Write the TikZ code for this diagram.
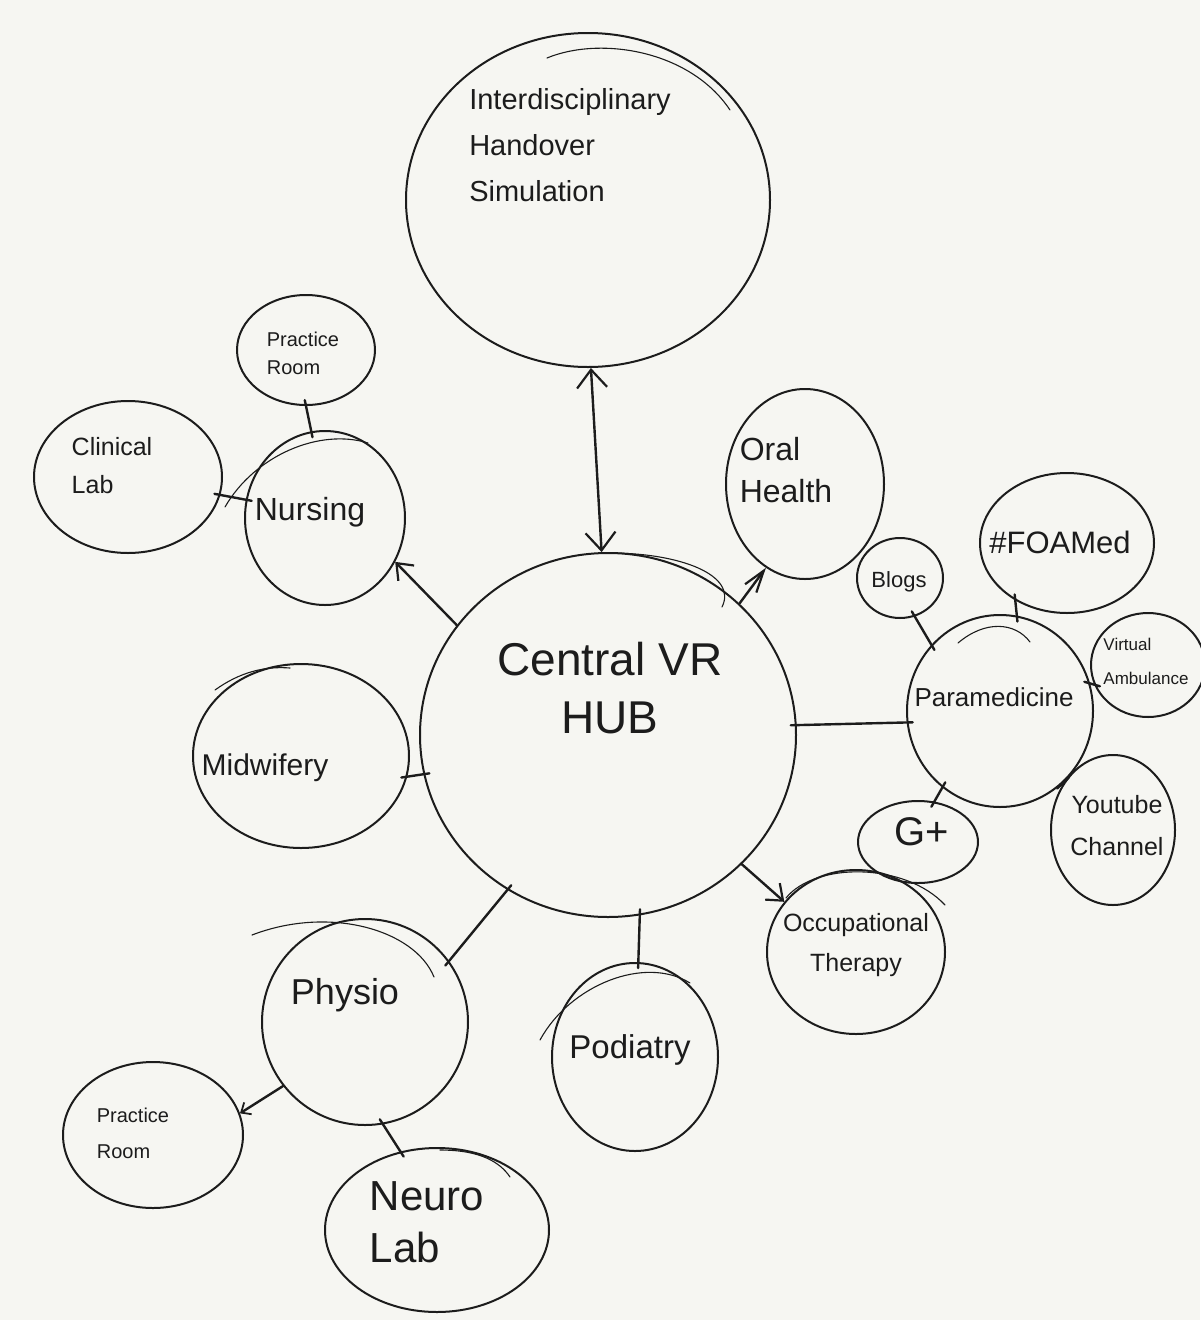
\documentclass[tikz,border=0pt]{standalone}
\usepackage{fontspec}
\setmainfont{Liberation Sans}
\usetikzlibrary{shapes.geometric,arrows.meta}
\definecolor{paper}{HTML}{F6F6F2}
\definecolor{ink}{HTML}{1C1C1C}
\tikzset{
  bub/.style n args={2}{ellipse, draw=ink, line width=2pt, inner sep=0pt,
    minimum width=#1, minimum height=#2},
  lbl/.style={text=ink, inner sep=0pt, align=left},
  link/.style={draw=ink, line width=2.4pt, line cap=round},
  ext/.style={shorten <=-6pt, shorten >=-6pt},
  sketchline/.style={draw=ink, line width=1.1pt, line cap=round},
  barb/.style={-{Straight Barb[length=14pt,width=22pt,line width=2.2pt]}},
  bigbarb/.style={{Straight Barb[length=18pt,width=30pt,line width=2.2pt]}-{Straight Barb[length=18pt,width=30pt,line width=2.2pt]}},
  smallbarb/.style={-{Straight Barb[length=8pt,width=14pt,line width=1.8pt]}},
  thinhead/.style={-{Straight Barb[length=22pt,width=14pt,line width=2.2pt]}}
}
\begin{document}
\begin{tikzpicture}[x=1pt,y=-1pt]
\useasboundingbox (0,0) rectangle (1200,1320);
\fill[paper] (0,0) rectangle (1200,1320);

% bubbles
\node[bub={364pt}{334pt}] (inter) at (588,200) {};
\node[bub={376pt}{364pt}] (hub) at (608,735) {};
\node[bub={160pt}{174pt}] (nursing) at (325,518) {};
\node[bub={138pt}{110pt}] (prt) at (306,350) {};
\node[bub={188pt}{152pt}] (clin) at (128,477) {};
\node[bub={158pt}{190pt}] (oral) at (805,484) {};
\node[bub={216pt}{184pt}] (mid) at (301,756) {};
\node[bub={186pt}{192pt}] (para) at (1000,711) {};
\node[bub={86pt}{80pt}] (blogs) at (900,578) {};
\node[bub={174pt}{140pt}] (foam) at (1067,543) {};
\node[bub={114pt}{104pt}] (va) at (1148,665) {};
\node[bub={124pt}{150pt}] (yt) at (1113,830) {};
\node[bub={120pt}{82pt}] (gplus) at (918,842) {};
\node[bub={178pt}{164pt}] (ot) at (856,952) {};
\node[bub={166pt}{188pt}] (pod) at (635,1057) {};
\node[bub={206pt}{206pt}] (physio) at (365,1022) {};
\node[bub={180pt}{146pt}] (prb) at (153,1135) {};
\node[bub={224pt}{164pt}] (neuro) at (437,1230) {};

% second sketch strokes on some bubbles
\draw[sketchline] (547,58) .. controls (600,36) and (690,50) .. (730,110);
\draw[sketchline] (610,553) .. controls (680,553) and (738,575) .. (722,607);
\draw[sketchline] (225,507) .. controls (255,455) and (320,428) .. (368,443);
\draw[sketchline] (958,643) .. controls (985,620) and (1015,622) .. (1030,642);
\draw[sketchline] (786,898) .. controls (815,862) and (905,862) .. (945,905);
\draw[sketchline] (540,1040) .. controls (570,985) and (645,955) .. (690,983);
\draw[sketchline] (252,935) .. controls (330,905) and (415,930) .. (434,977);
\draw[sketchline] (440,1150) .. controls (480,1150) and (500,1162) .. (510,1177);
\draw[sketchline] (215,690) .. controls (240,672) and (265,666) .. (290,668);

% labels
\node[lbl, font=\fontsize{29}{46}\selectfont] (intertext) at (570,145) {Interdisciplinary\\Handover\\Simulation};
\node[lbl, align=center, font=\fontsize{46}{58}\selectfont] (hubtext) at (610,688) {Central VR\\HUB};
\node[lbl, font=\fontsize{32}{38}\selectfont] (nursingtext) at (310,512) {Nursing};
\node[lbl, font=\fontsize{20}{28}\selectfont] (prttext) at (303,353) {Practice\\Room};
\node[lbl, font=\fontsize{25}{38}\selectfont] (clintext) at (112,466) {Clinical\\Lab};
\node[lbl, font=\fontsize{32}{42}\selectfont] (oraltext) at (786,470) {Oral\\Health};
\node[lbl, font=\fontsize{30}{36}\selectfont] (midtext) at (265,768) {Midwifery};
\node[lbl, font=\fontsize{26}{32}\selectfont] (paratext) at (994,697) {Paramedicine};
\node[lbl, font=\fontsize{22}{28}\selectfont] (blogstext) at (899,582) {Blogs};
\node[lbl, font=\fontsize{31}{38}\selectfont] (foamtext) at (1060,542) {\#FOAMed};
\node[lbl, font=\fontsize{17}{34}\selectfont] (vatext) at (1146,661) {Virtual\\Ambulance};
\node[lbl, align=center, font=\fontsize{25}{42}\selectfont] (yttext) at (1117,826) {Youtube\\Channel};
\node[lbl, font=\fontsize{40}{48}\selectfont] (gplustext) at (922,832) {G+};
\node[lbl, align=center, font=\fontsize{25}{40}\selectfont] (ottext) at (856,945) {Occupational\\Therapy};
\node[lbl, font=\fontsize{33}{40}\selectfont] (podtext) at (630,1050) {Podiatry};
\node[lbl, font=\fontsize{36}{42}\selectfont] (physiotext) at (345,995) {Physio};
\node[lbl, font=\fontsize{20}{36}\selectfont] (prbtext) at (133,1133) {Practice\\Room};
\node[lbl, font=\fontsize{42}{52}\selectfont] (neurotext) at (427,1222) {Neuro\\Lab};

% connectors
\draw[link, bigbarb] (inter.-89) -- (hub.92);
\draw[link, barb] (hub.144) -- (nursing.-32);
\draw[link, thinhead] (hub.45.6) -- (oral.-115.6);
\draw[link, barb] (hub.-44.5) -- (ot.145);
\draw[link, smallbarb] (physio.-142) -- (prb.14);
\draw[link, ext] (prt.-90) -- (nursing.99);
\draw[link, ext] (clin.-11) -- (nursing.167);
\draw[link, ext] (hub.192) -- (mid.-11);
\draw[link, ext] (hub.3) -- (para.187);
\draw[link, ext] (hub.-123.6) -- (physio.36.9);
\draw[link, ext] (hub.-80) -- (pod.88);
\draw[link, ext] (para.136) -- (blogs.-69);
\draw[link, ext] (para.80.6) -- (foam.-132);
\draw[link, ext] (para.17) -- (va.200);
\draw[link, ext] (para.-50) -- (yt.135);
\draw[link, ext] (para.-127) -- (gplus.68);
\draw[link, ext] (physio.-80) -- (neuro.115);
\end{tikzpicture}
\end{document}
